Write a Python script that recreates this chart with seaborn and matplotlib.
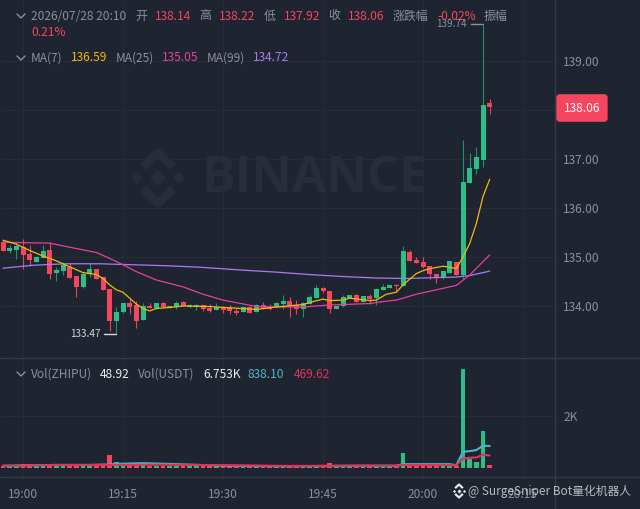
import pandas as pd
import seaborn as sns
import matplotlib.pyplot as plt
from matplotlib.lines import Line2D

# minutes after 19:00, one candle per minute
minutes = list(range(-3, 71))
opens = [135.32, 135.12, 135.15, 135.22, 135.06, 134.91, 134.99, 135.15, 134.69, 134.73, 134.81, 134.62, 134.39, 134.66, 134.76, 134.61,
         134.35, 133.71, 133.88, 134.07, 134.03, 133.72, 134.01, 133.97, 134.08, 133.97, 133.98, 134.10, 133.98, 133.98, 134.03, 133.96, 133.92,
         133.98, 133.98, 133.91, 133.89, 133.98, 133.89, 134.04, 133.98, 133.98, 134.05, 134.11, 134.04, 133.95, 134.06, 134.18, 134.37, 134.32,
         133.95, 134.00, 134.17, 134.23, 134.10, 134.21, 134.17, 134.34, 134.37, 134.44, 134.42, 135.11, 134.95, 134.90, 134.82, 134.67, 134.61,
         134.69, 134.91, 134.64, 136.52, 136.81, 136.98, 138.14]
closes = [135.14, 135.19, 135.24, 135.05, 134.95, 135.00, 135.13, 134.67, 134.74, 134.85, 134.59, 134.40, 134.66, 134.76, 134.57, 134.34,
          133.70, 133.89, 134.07, 133.98, 133.71, 134.00, 133.97, 134.07, 133.98, 134.00, 134.08, 134.01, 134.03, 134.04, 133.94, 133.91, 133.98,
          133.93, 133.90, 133.87, 133.98, 133.87, 134.04, 133.96, 133.94, 134.07, 134.12, 134.02, 133.95, 134.08, 134.19, 134.37, 134.32, 133.95,
          134.00, 134.19, 134.23, 134.10, 134.21, 134.16, 134.36, 134.40, 134.44, 134.41, 135.12, 134.92, 134.89, 134.80, 134.66, 134.61, 134.73,
          134.93, 134.64, 136.54, 136.82, 137.05, 138.10, 138.06]
highs = [135.35, 135.25, 135.29, 135.37, 135.25, 135.00, 135.25, 135.32, 134.81, 134.91, 134.88, 134.62, 134.68, 134.88, 134.76, 134.61,
         134.35, 133.98, 134.08, 134.15, 134.12, 134.08, 134.08, 134.08, 134.10, 134.01, 134.12, 134.12, 134.05, 134.05, 134.03, 134.06, 134.08,
         134.00, 134.03, 133.96, 134.00, 134.00, 134.05, 134.10, 134.05, 134.10, 134.23, 134.20, 134.13, 134.10, 134.23, 134.43, 134.39, 134.32,
         134.00, 134.23, 134.23, 134.25, 134.21, 134.25, 134.38, 134.46, 134.44, 134.46, 135.23, 135.16, 135.00, 135.00, 134.82, 134.67, 134.73,
         134.93, 134.91, 137.39, 137.13, 137.25, 139.74, 138.22]
lows = [135.14, 135.08, 134.97, 134.76, 134.82, 134.91, 134.98, 134.55, 134.51, 134.64, 134.59, 134.19, 134.37, 134.61, 134.55, 134.34,
        133.51, 133.47, 133.86, 133.85, 133.57, 133.72, 133.97, 133.94, 133.97, 133.97, 133.94, 134.00, 133.97, 133.93, 133.91, 133.89, 133.92,
        133.86, 133.85, 133.83, 133.88, 133.86, 133.88, 133.94, 133.93, 133.98, 133.94, 133.79, 133.84, 133.79, 134.05, 134.17, 134.28, 133.87,
        133.95, 133.98, 134.17, 134.10, 134.10, 134.06, 134.04, 134.34, 134.37, 134.30, 134.42, 134.92, 134.88, 134.78, 134.55, 134.47, 134.55,
        134.69, 134.64, 134.57, 136.52, 136.70, 136.85, 137.92]
volumes = [60, 50, 60, 150, 120, 90, 70, 90, 70, 60, 90, 150, 70, 70, 80, 70,
           500, 200, 90, 90, 80, 80, 60, 70, 70, 40, 40, 60, 40, 40, 40, 40, 40,
           40, 40, 30, 30, 30, 40, 40, 30, 40, 40, 50, 40, 50, 60, 60, 60, 195,
           50, 60, 50, 60, 50, 60, 60, 40, 40, 50, 570, 90, 70, 90, 60, 60, 50,
           50, 60, 3850, 340, 220, 1410, 80]

ma7_x = [-3, -1, 1, 3, 5, 7, 9, 11, 12, 13, 14, 15, 16, 17, 18, 19, 20, 22, 24, 28, 29, 35, 38, 42, 43.5, 45, 46, 48, 49, 52, 53, 54.5, 56,
         57, 59, 60, 61, 63, 64, 65, 66, 67, 68, 69, 70]
ma7 = [135.35, 135.27, 135.14, 135.03, 134.93, 134.81, 134.69, 134.65, 134.57, 134.44, 134.34, 134.29, 134.17, 134.05, 133.96, 133.91, 133.96,
       133.98, 134.01, 134.00, 133.99, 133.94, 133.99, 134.04, 134.10, 134.15, 134.12, 134.13, 134.17, 134.12, 134.13, 134.25, 134.29,
       134.44, 134.67, 134.73, 134.77, 134.82, 134.80, 134.77, 135.01, 135.28, 135.69, 136.24, 136.59]
ma25_x = [-3, 0, 4, 8, 11, 13, 15, 17, 20, 24, 27, 29, 30, 35, 38, 42, 46, 52, 54, 56, 59, 65, 67, 70]
ma25 = [135.31, 135.30, 135.29, 135.18, 135.10, 134.98, 134.85, 134.71, 134.54, 134.40, 134.25, 134.17, 134.13, 134.00, 133.99, 133.99,
        134.03, 134.06, 134.10, 134.13, 134.25, 134.43, 134.64, 135.05]
ma99_x = [-3, 1.5, 6.5, 11.5, 16.5, 21.5, 26.5, 33, 38, 43, 48, 53, 57.5, 65, 67, 70]
ma99 = [134.78, 134.84, 134.87, 134.87, 134.85, 134.83, 134.80, 134.74, 134.70, 134.65, 134.61, 134.58, 134.57, 134.60, 134.63, 134.72]

vol_ma_x = [-3, 5, 10, 13, 14, 18, 22, 30, 40, 50, 56, 57, 64, 65, 66, 67, 68, 69, 70]
vol_ma_blue = [70, 100, 100, 120, 140, 170, 140, 70, 50, 70, 70, 130, 130, 90, 610, 640, 680, 850, 838]
vol_ma_red_x = [-3, 5, 13, 20, 30, 40, 50, 56, 57, 65, 66, 67, 68, 69, 70]
vol_ma_red = [60, 100, 100, 110, 90, 60, 70, 70, 100, 90, 350, 380, 390, 495, 470]

price_ticks = [134, 135, 136, 137, 138, 139]
time_ticks = [0, 15, 30, 45, 60, 75]
time_labels = ['19:00', '19:15', '19:30', '19:45', '20:00', '20:15']

BG = '#1E2530'
GRID = '#262D38'
SEP = '#343B47'
GRAY = '#8A919C'
GREEN = '#2EBD85'
RED = '#F6465D'
YELLOW = '#F0B90B'
PINK = '#E93E9F'
PURPLE = '#A97BF0'
W, H = 640, 509

sns.set_theme(style='dark', rc={'figure.facecolor': BG, 'axes.facecolor': BG, 'axes.edgecolor': BG, 'axes.grid': True,
                                'grid.color': GRID, 'grid.linewidth': 0.8})
plt.rcParams['font.family'] = ['Noto Sans CJK SC', 'DejaVu Sans']

df = pd.DataFrame({'minute': minutes, 'open': opens, 'close': closes, 'high': highs, 'low': lows, 'volume': volumes})
df['side'] = ['up' if c >= o else 'down' for o, c in zip(df['open'], df['close'])]
palette = {'up': GREEN, 'down': RED}
wick_palette = {'up': '#23906A', 'down': '#E8435A'}

fig = plt.figure(figsize=(W / 100, H / 100), dpi=100)
ax = fig.add_axes([0, 1 - 358 / H, 555 / W, 358 / H])
ax_vol = fig.add_axes([0, 1 - 477 / H, 555 / W, 119 / H], sharex=ax)


def px_text(x, y, s, color=GRAY, size=8.6, **kw):
    fig.text(x / W, 1 - y / H, s, color=color, fontsize=size, va='center', **kw)


def px_line(xs, ys, color, lw=1.0, **kw):
    fig.add_artist(Line2D([x / W for x in xs], [1 - y / H for y in ys], color=color, lw=lw,
                          transform=fig.transFigure, **kw))


def logo(ax_, cx, cy, s, color):
    # binance mark: centre and side diamonds, chevrons above and below
    for dx, dy, r in [(0, 0, 8), (-21, 0, 6), (21, 0, 6)]:
        ax_.plot([(cx + dx * s) / W], [1 - (cy + dy * s) / H], marker='D', ms=r * s * 1.02, color=color, mew=0,
                 transform=fig.transFigure, zorder=1, clip_on=False)
    for sign in (-1, 1):
        xs = [cx - 15 * s, cx, cx + 15 * s]
        ys = [cy + sign * 11 * s, cy + sign * 25 * s, cy + sign * 11 * s]
        ax_.plot([x / W for x in xs], [1 - y / H for y in ys], color=color, lw=6 * s, transform=fig.transFigure,
                 zorder=1, solid_capstyle='butt', clip_on=False)


# watermark sits under the candles
logo(ax, 158, 178, 1, '#272E3A')
ax.text(314 / W, 1 - 179 / H, 'BINANCE', transform=fig.transFigure, color='#272E3A', fontsize=36, fontweight='bold',
        ha='center', va='center', zorder=1, family=['Open Sans', 'DejaVu Sans'])

# candles
ax.vlines(df['minute'], df['low'], df['high'], colors=df['side'].map(wick_palette), lw=0.8, zorder=3)
ax.bar(df['minute'], (df['close'] - df['open']).abs(), bottom=df[['open', 'close']].min(axis=1), width=0.75,
       color=df['side'].map(palette), linewidth=0, zorder=3)

sns.lineplot(x=ma99_x, y=ma99, color=PURPLE, linewidth=0.9, ax=ax, zorder=4)
sns.lineplot(x=ma25_x, y=ma25, color=PINK, linewidth=0.9, ax=ax, zorder=4)
sns.lineplot(x=ma7_x, y=ma7, color=YELLOW, linewidth=0.9, ax=ax, zorder=4)

ax.set_xlim(-3.45, 79.8)
ax.set_ylim(132.951, 140.242)
ax.set_yticks(price_ticks)
ax.set_yticklabels([f'{p:.2f}' for p in price_ticks])
ax.yaxis.tick_right()
ax.tick_params(axis='y', colors=GRAY, labelsize=8.6, length=0, pad=6)
ax.tick_params(axis='x', bottom=False, labelbottom=False)
ax.set_xlabel('')
ax.set_ylabel('')

# volume panel
sns.barplot(data=df, x='minute', y='volume', hue='side', palette=palette, dodge=False, native_scale=True, width=0.7,
            legend=False, ax=ax_vol, zorder=3, linewidth=0, saturation=1)
sns.lineplot(x=vol_ma_x, y=vol_ma_blue, color='#4EB5C9', linewidth=1.5, ax=ax_vol, zorder=4)
sns.lineplot(x=vol_ma_red_x, y=vol_ma_red, color='#E0325F', linewidth=1.5, ax=ax_vol, zorder=4)
ax_vol.set_xlim(-3.45, 79.8)
ax_vol.set_ylim(-370, 4270)
ax_vol.set_yticks([2000])
ax_vol.set_yticklabels(['2K'])
ax_vol.yaxis.tick_right()
ax_vol.tick_params(axis='y', colors=GRAY, labelsize=8.6, length=0, pad=6)
ax_vol.set_xticks(time_ticks)
ax_vol.set_xticklabels(time_labels)
ax_vol.tick_params(axis='x', colors=GRAY, labelsize=8.6, length=0, pad=8)
ax_vol.set_xlabel('')
ax_vol.set_ylabel('')
ax.grid(True)
ax_vol.grid(True)

# panel separators
px_line([0, W], [358, 358], SEP)
px_line([0, W], [477, 477], SEP)
px_line([555, 555], [0, H], SEP)

# header rows
for y in (16, 58, 374):
    px_line([17, 21, 25], [y - 2, y + 2, y - 2], GRAY, lw=1.0)

for x, s, c in [(31, '2026/07/28 20:10', GRAY), (135, '开', GRAY), (155, '138.14', RED), (199, '高', GRAY), (219, '138.22', RED),
                (264, '低', GRAY), (284, '137.92', RED), (328, '收', GRAY), (348, '138.06', RED), (393, '涨跌幅', GRAY),
                (437, '-0.02%', RED), (484, '振幅', GRAY)]:
    px_text(x, 16, s, c)
px_text(31, 33, '0.21%', RED)

for x, s, c in [(31, 'MA(7)', GRAY), (71, '136.59', YELLOW), (116, 'MA(25)', GRAY), (162, '135.05', PINK), (207, 'MA(99)', GRAY),
                (253, '134.72', PURPLE)]:
    px_text(x, 58, s, c)

for x, s, c in [(31, 'Vol(ZHIPU)', GRAY), (100, '48.92', '#EAECEF'), (138, 'Vol(USDT)', GRAY), (203, '6.753K', '#EAECEF'),
                (248, '838.10', '#4EB5C9'), (294, '469.62', '#E0325F')]:
    px_text(x, 374, s, c)

# high and low markers
px_text(101, 334, '133.47', '#D5D8DC', size=7.2, ha='right')
px_line([104, 116], [333.5, 333.5], '#D5D8DC')
px_text(467, 24, '139.74', GRAY, size=7.2, ha='right')
px_line([471, 483], [24, 24], GRAY)

# last price tag
fig.text(582 / W, 1 - 108 / H, '138.06', color='white', fontsize=8.6, ha='center', va='center',
         bbox=dict(boxstyle='round,pad=0.6,rounding_size=0.3', fc=RED, ec=RED, lw=0.3))

# bot footer
logo(ax_vol, 459, 491, 0.26, '#E8EAED')
px_text(468, 491, '@ SurgeSniper Bot量化机器人', '#C6CAD0', size=8.5, alpha=0.9)

fig.savefig('out.png', dpi=100, facecolor=BG)
